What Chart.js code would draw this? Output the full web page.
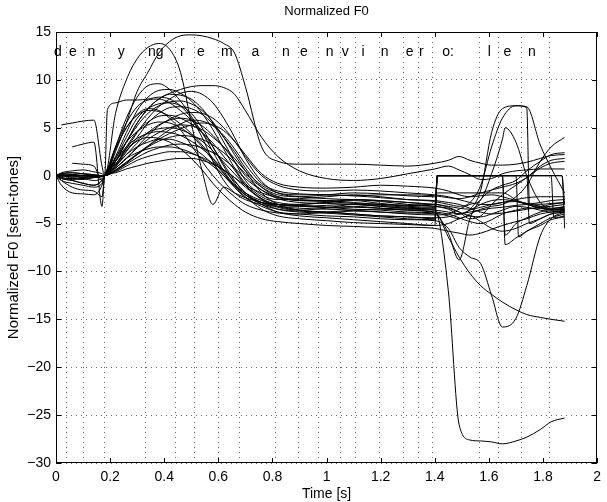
<!DOCTYPE html>
<html>
<head>
<meta charset="utf-8">
<script src="https://cdn.jsdelivr.net/npm/chart.js@4.4.0/dist/chart.umd.min.js"></script>
<style>
  html, body { margin: 0; padding: 0; background: #fff; }
  #wrap { width: 607px; height: 502px; }
</style>
</head>
<body>
<div id="wrap"><canvas id="f0" width="607" height="502"></canvas></div>
<script>
// time grid [s] shared by every contour (null = no sample there)
var T = [0, 0.02, 0.06, 0.10, 0.14, 0.17, 0.18, 0.19,
  0.22, 0.26, 0.30, 0.34, 0.38, 0.42, 0.46, 0.50, 0.54, 0.58, 0.62, 0.66,
  0.70, 0.76, 0.82, 0.90, 1.00, 1.10, 1.20, 1.30, 1.40,
  1.41, 1.45, 1.49, 1.53, 1.57, 1.61, 1.65, 1.66, 1.70, 1.71, 1.74, 1.75, 1.79, 1.83, 1.84, 1.87, 1.88];
var _ = null;

// normalized F0 contours [semi-tones]
var c01 = [0,0,0,0,0,0,0, _, 2.5,5.5,8.8,10.8,12.8,14.0,14.6,14.7,14.6,14.3,13.8,12.8, 9.3,3.0,1.5,1.2,1.2,1.2,1.1,1.0,1.3, _,1.6,2.0,1.6,1.3,1.1,1.1,_,1.2,_,1.4,_,1.8,2.1,_,_,2.2];
var c02 = [0,0,0.1,0.2,0.1,0,0, _, 1.5,3.5,5.5,7.0,8.0,8.6,9.0,9.3,9.4,9.4,9.2,8.5, 6.8,4.0,2.0,0.5,-0.3,-0.5,-0.3,0.2,0.7, _,1.0,0.6,0.1,-0.4,-0.3,0.2,_,0.5,_,0.6,_,0.7,0.7,_,_,0.7];
var c03 = [0,0,0,0,0,0,0, _, 6.5,10.0,12.2,13.4,13.8,13.2,10.8,5.5,0.5,-3.0,-1.2,-1.8, -2.3,-2.8,-3.0,-3.1,-3.3,-3.0,-3.2,-3.4,-3.5, 0,0,0,0,0,0,0,-6.2,-5.0,_,-4.4,_,-3.8,-3.5,_,_,-3.2];
var c04 = [0,0,0,0,0,0,0, 6.9, 7.6,7.9,7.9,8.0,8.2,8.0,7.3,6.0,4.0,1.5,-0.5,-1.8, -2.5,-3.0,-3.2,-3.0,-2.8,-2.6,-2.9,-3.1,-3.0, _,-3.3,-3.8,-4.5,-4.2,-3.0,-2.0,_,-1.0,_,-0.2,_,1.0,1.6,_,_,1.8];
var c05 = [0,-0.2,-0.4,-0.3,-0.2,-0.1,0, _, 3.0,6.0,8.2,9.4,9.6,9.0,7.8,6.2,4.5,2.5,0.5,-1.0, -2.0,-2.8,-3.2,-3.4,-3.5,-3.6,-3.8,-3.9,-4.0, _,-6.0,-8.8,-4.5,-2.5,-1.5,-1.0,_,-0.5,_,0.5,_,1.5,2.2,_,_,2.4];
var c06 = [0,0.2,0.3,0.2,0.1,0,0, _, 2.0,4.5,6.8,8.2,8.9,9.0,8.6,7.8,6.5,4.8,2.8,0.8, -0.8,-2.2,-2.8,-3.0,-2.8,-2.5,-2.7,-3.0,-3.2, _,-3.5,-4.0,-3.5,-1.5,4.5,7.0,_,7.3,_,7.1,-3.0,-3.3,-3.6,_,_,-3.5];
var c07 = [0,0,0,0,0,0,0, _, 1.5,3.5,5.5,7.0,8.0,8.5,8.4,8.0,7.0,5.5,3.5,1.5, -0.5,-2.0,-2.5,-2.4,-2.2,-2.0,-2.2,-2.5,-2.7, _,-3.0,-3.2,-2.8,-1.0,3.0,6.0,_,7.3,_,7.2,_,3.2,0.8,_,_,-1.8];
var c08 = [0,-0.3,-0.5,-0.8,-1.0,-0.5,0, _, 3.0,5.5,7.2,7.9,8.0,7.6,6.8,5.8,4.5,3.0,1.2,-0.5, -1.8,-2.8,-3.5,-3.8,-3.9,-3.7,-3.8,-4.0,-4.1, _,-4.0,-3.5,-3.0,-2.5,0.2,3.8,5.0,3.5,_,0.0,_,-2.8,-3.5,_,_,-3.6];
var c09 = [0,0,0,0,0,0,0, _, 1.8,4.0,6.0,7.0,7.5,7.6,7.3,6.5,5.0,3.0,1.0,-0.8, -2.0,-2.8,-3.0,-3.1,-3.3,-3.5,-3.6,-3.8,-3.9, _,-4.2,-4.5,-4.0,-3.5,-3.2,-3.0,_,-2.2,_,-1.0,_,1.5,3.0,_,_,4.0];
var c10 = [0,0.2,0.1,0,0,0,0, _, 1.0,2.5,4.0,5.5,6.5,7.1,7.2,7.0,6.4,5.4,4.0,2.5, 0.8,-1.2,-2.2,-2.6,-2.6,-2.5,-2.6,-2.8,-3.0, 0,0,0,0,0,0,0,-7.2,-6.5,_,-5.8,_,-5.0,-4.4,_,_,-4.0];
var c11 = [_,5.3,5.5,5.7,5.8,1.0,0, _, 2.8,5.0,6.3,6.8,6.7,6.2,5.4,4.4,3.2,1.8,0.3,-1.2, -2.3,-3.2,-3.8,-4.0,-4.2,-4.3,-4.5,-4.6,-4.7, _,-5.5,-7.5,-8.5,-9.2,-12.5,-15.8,_,-14.9,_,-11.5,_,-6.3,-4.5,_,_,-3.8];
var c12 = [_,_,3.0,3.3,3.5,-3.2,0, _, 1.2,3.0,4.6,5.6,6.2,6.3,6.0,5.4,4.5,3.4,2.0,0.6, -1.0,-2.5,-3.3,-3.6,-3.4,-3.2,-3.4,-3.6,-3.8, _,-6.4,-8.5,-10.2,-11.5,-12.4,-13.2,_,-14.0,_,-14.5,_,-14.8,-15.0,_,_,-15.2];
var c13 = [0,0,0,0,0,0,0, _, 1.0,2.2,3.4,4.5,5.3,5.8,6.0,5.8,5.2,4.2,3.0,1.5, 0.0,-1.5,-2.4,-2.8,-2.9,-3.0,-3.2,-3.4,-3.6, _,-12.0,-26.0,-27.6,-27.7,-27.8,-28.0,_,-27.7,_,-27.3,_,-26.5,-25.7,_,_,-25.3];
var c14 = [_,_,1.3,1.2,1.0,-0.5,0, _, 1.8,3.5,4.6,5.3,5.6,5.5,5.0,4.2,3.0,1.6,0.2,-1.0, -2.0,-3.0,-3.5,-3.7,-3.8,-4.0,-4.2,-4.3,-4.5, 0,0,0,0,0,0,0,_,0,_,0,_,0,0,-4.4,_,-4.2];
var c15 = [0,-1.0,-1.8,-1.9,-2.0,-1.0,0, _, 0.8,1.8,2.9,3.8,4.5,5.0,5.3,5.2,4.8,4.0,3.0,1.8, 0.5,-1.0,-1.8,-2.0,-2.0,-2.1,-2.3,-2.5,-2.6, _,-2.8,-3.0,-3.4,-3.8,-4.0,-3.9,_,-3.7,_,-3.5,_,-3.3,-3.2,_,_,-3.0];
var c16 = [0,-0.5,-1.2,-1.5,-1.6,-2.2,0, _, 1.2,2.6,3.7,4.5,4.9,5.0,4.8,4.3,3.6,2.6,1.4,0.2, -1.0,-2.4,-3.0,-3.2,-3.1,-3.0,-3.1,-3.3,-3.4, 0,0,0,0,0,0,0,_,0,_,0,_,0,0,_,0,-5.5];
var c17 = [0,0.1,-0.2,-0.3,-0.5,-0.3,0, _, 1.5,3.0,3.9,4.4,4.6,4.5,4.2,3.6,2.8,1.8,0.6,-0.6, -1.8,-3.0,-3.8,-4.2,-4.4,-4.6,-4.8,-5.0,-5.2, _,-5.0,-4.5,-4.2,-4.8,-5.5,-5.8,_,-5.5,_,-5.0,_,-4.5,-4.0,_,_,-3.8];
var c18 = [0,0,0,0,0,0,0, _, 0.6,1.4,2.2,3.0,3.6,4.0,4.2,4.1,3.8,3.2,2.4,1.4, 0.2,-1.2,-2.0,-2.2,-2.0,-1.8,-1.9,-2.1,-2.2, -1.8,-1.8,-1.8,-1.8,-1.8,-1.8,-1.8,_,-2.5,_,-3.0,_,-3.2,-3.0,_,_,-2.8];
var c19 = [0,-0.2,-0.3,-0.2,-0.1,0,0, _, 1.0,2.2,3.0,3.5,3.8,3.8,3.5,3.0,2.2,1.2,0.0,-1.2, -2.2,-3.5,-4.2,-4.5,-4.7,-4.9,-5.0,-5.1,-5.2, 0,0,0,0,0,0,0,_,0,_,0,-5.0,-4.5,-4.0,_,_,-3.8];
var c20 = [0,0,0,0,0,0,0, _, 0.5,1.2,1.9,2.5,2.9,3.2,3.3,3.2,2.9,2.4,1.7,0.8, -0.3,-1.5,-2.2,-2.5,-2.6,-2.8,-3.0,-3.1,-3.2, _,-3.4,-3.8,-4.2,-4.3,-4.0,-3.6,_,-3.2,_,-3.3,_,-3.6,-3.8,_,_,-3.7];
var c21 = [0,0.3,0.5,0.6,0.4,0.2,0, _, 0.8,1.8,2.4,2.8,3.0,3.0,2.8,2.4,1.8,1.0,0.0,-1.0, -1.8,-2.6,-3.0,-3.2,-3.3,-3.3,-3.4,-3.5,-3.6, _,-3.8,-4.0,-3.6,-3.0,-2.6,-2.5,_,-2.7,_,-3.0,_,-3.4,-3.6,_,_,-3.5];
var c22 = [0,0,-0.3,-0.4,-0.2,-0.1,0, _, 0.4,1.0,1.6,2.0,2.3,2.5,2.5,2.3,1.9,1.3,0.6,-0.2, -1.0,-1.8,-2.3,-2.6,-2.7,-2.9,-3.0,-3.2,-3.3, 0,0,0,0,0,0,0,_,0,_,0,_,0,0,_,0,-3.0];
var c23 = [0,-0.3,-0.5,-0.8,-1.0,-0.5,0, _, 0.3,0.7,1.0,1.3,1.5,1.7,1.8,1.8,1.6,1.2,0.6,-0.2, -1.2,-2.4,-3.2,-3.6,-3.8,-4.0,-4.2,-4.3,-4.4, _,-4.3,-4.0,-3.8,-3.6,-3.4,-3.3,_,-3.1,_,-3.0,_,-2.8,-2.6,_,_,-2.5];
var c24 = [0,0,0,0,0,0,0, _, 0.8,1.8,3.0,4.2,5.2,5.9,6.4,6.6,6.5,6.0,5.0,3.6, 2.0,0.0,-1.0,-1.5,-1.6,-1.5,-1.6,-1.8,-2.0, _,-2.2,-2.5,-2.8,-3.0,-3.0,-2.8,_,-2.5,_,-2.3,_,-2.2,-2.2,_,_,-2.2];
var c25 = [0,0.2,0.3,0.2,0,0,0, _, 0.6,1.4,2.3,3.1,3.8,4.4,4.9,5.3,5.5,5.3,4.7,3.6, 2.2,0.2,-0.8,-1.2,-1.3,-1.2,-1.0,-1.1,-1.3, _,-1.6,-2.0,-2.2,-2.1,-2.0,-2.2,_,-2.6,_,-2.9,_,-3.0,-2.9,_,_,-2.8];
var c26 = [0,0,0,0,0,0,0, _, 1.2,2.8,4.5,6.0,7.2,8.0,8.6,8.8,8.5,7.6,6.0,4.0, 1.8,-0.6,-1.8,-2.2,-2.4,-2.5,-2.6,-2.8,-3.0, _,-3.2,-3.4,-3.5,-3.3,-3.0,-2.8,_,-2.7,_,-2.9,_,-3.2,-3.4,_,_,-3.3];
var c27 = [0,-0.5,-0.8,-1.0,-1.2,-0.8,0, _, 1.5,3.5,5.2,6.5,7.3,7.7,7.8,7.5,6.8,5.6,4.0,2.2, 0.5,-1.8,-3.0,-3.6,-3.9,-4.1,-4.3,-4.5,-4.6, 0,0,0,0,0,0,0,_,0,-6.4,-5.8,_,-5.2,-4.6,_,_,-4.3];
var c28 = [0,0,0.1,0,0,0,0, _, 1.5,2.8,3.6,4.0,3.9,3.5,2.8,1.8,0.6,-0.8,-2.0,-3.0, -3.8,-4.5,-4.8,-5.0,-5.2,-5.3,-5.4,-5.4,-5.5, _,-5.8,-6.0,-6.2,-6.0,-5.6,-5.2,_,-4.8,_,-4.5,_,-4.0,-3.8,_,_,-3.6];
var c29 = [0,0.1,0,-0.2,-0.1,0,0, _, 2.8,5.0,6.4,7.0,6.8,6.0,4.8,3.2,1.5,0.0,-1.2,-2.2, -3.0,-3.6,-3.9,-4.0,-3.8,-3.6,-3.5,-3.6,-3.8, _,-4.0,-4.4,-4.8,-5.0,-4.6,-4.0,_,-3.6,_,-3.4,_,-3.4,-3.5,_,_,-3.4];
var c30 = [0,0,0,0,0,0,0, _, 0.5,1.3,2.2,3.1,4.0,4.8,5.4,5.8,5.7,5.2,4.2,2.8, 1.2,-0.8,-1.6,-1.9,-2.0,-2.1,-2.0,-2.0,-2.1, _,-2.3,-2.4,-2.2,-1.8,-1.5,-1.2,_,-0.8,_,-0.2,_,0.8,1.3,_,_,1.5];

var curves = [c01, c02, c03, c04, c05, c06, c07, c08, c09, c10, c11, c12, c13, c14, c15,
  c16, c17, c18, c19, c20, c21, c22, c23, c24, c25, c26, c27, c28, c29, c30];

// phoneme segmentation (dotted vertical lines) and labels
var bounds = [0.040, 0.102, 0.179, 0.332, 0.442, 0.511, 0.599, 0.679, 0.810, 0.898, 0.971,
  1.051, 1.106, 1.197, 1.285, 1.339, 1.391, 1.566, 1.635, 1.719, 1.825];
var phones = ['d', 'e', 'n', 'y', 'ng', 'r', 'e', 'm', 'a', 'n', 'e', 'n', 'v', 'i', 'n', 'e', 'r', 'o:', 'l', 'e', 'n'];
var phoneX = [0.007, 0.062, 0.131, 0.241, 0.369, 0.467, 0.536, 0.631, 0.737, 0.850, 0.916,
  1.011, 1.069, 1.135, 1.215, 1.307, 1.350, 1.449, 1.602, 1.668, 1.759];
var phoneY = 12.9;

var titleText = 'Normalized F0';
var xTitle = 'Time [s]';
var yTitle = 'Normalized F0 [semi-tones]';

var FONT = '"Liberation Sans", Arial, Helvetica, sans-serif';
Chart.defaults.font.family = FONT;
Chart.defaults.font.size = 14;
Chart.defaults.color = '#000';

// MATLAB-ish box: inward ticks, frame, titles, phoneme labels
var matlabFrame = {
  id: 'matlabFrame',
  beforeDatasetsDraw: function (chart) {
    var ctx = chart.ctx, x = chart.scales.x, y = chart.scales.y;
    ctx.save();
    ctx.font = '14px ' + FONT;
    ctx.fillStyle = '#000';
    ctx.textAlign = 'center';
    ctx.textBaseline = 'middle';
    phones.forEach(function (p, i) {
      ctx.fillText(p, x.getPixelForValue(phoneX[i]), y.getPixelForValue(phoneY));
    });
    ctx.restore();
  },
  afterDraw: function (chart) {
    var ctx = chart.ctx, a = chart.chartArea, x = chart.scales.x, y = chart.scales.y;
    ctx.save();
    ctx.strokeStyle = '#000';
    ctx.lineWidth = 1;
    ctx.strokeRect(Math.round(a.left) + 0.5, Math.round(a.top) + 0.5,
      Math.round(a.right - a.left) - 1, Math.round(a.bottom - a.top) - 1);
    ctx.beginPath();
    x.ticks.forEach(function (t) {
      var px = Math.round(x.getPixelForValue(t.value)) + 0.5;
      ctx.moveTo(px, a.bottom); ctx.lineTo(px, a.bottom - 5);
      ctx.moveTo(px, a.top); ctx.lineTo(px, a.top + 5);
    });
    y.ticks.forEach(function (t) {
      var py = Math.round(y.getPixelForValue(t.value)) + 0.5;
      ctx.moveTo(a.left, py); ctx.lineTo(a.left + 5, py);
      ctx.moveTo(a.right, py); ctx.lineTo(a.right - 5, py);
    });
    ctx.stroke();

    ctx.fillStyle = '#000';
    ctx.textAlign = 'center';
    ctx.textBaseline = 'middle';
    var cx = (a.left + a.right) / 2;
    ctx.font = '13px ' + FONT;
    ctx.fillText(titleText, cx, 11);
    ctx.font = '14px ' + FONT;
    ctx.fillText(xTitle, cx, 494);
    ctx.font = '15px ' + FONT;
    ctx.translate(14, (a.top + a.bottom) / 2);
    ctx.rotate(-Math.PI / 2);
    ctx.fillText(yTitle, 0, 0);
    ctx.restore();
  }
};

new Chart(document.getElementById('f0').getContext('2d'), {
  type: 'line',
  data: {
    datasets: curves.map(function (ys) {
      return {
        data: T.map(function (t, i) { return { x: t, y: ys[i] }; }),
        borderColor: '#000',
        borderWidth: 1,
        pointRadius: 0,
        fill: false,
        spanGaps: true,
        cubicInterpolationMode: 'monotone'
      };
    })
  },
  options: {
    responsive: false,
    animation: false,
    devicePixelRatio: 1,
    layout: { padding: { top: 32, right: 4, left: 0, bottom: 0 } },
    plugins: { legend: { display: false }, tooltip: { enabled: false }, title: { display: false } },
    scales: {
      x: {
        type: 'linear', min: 0, max: 2,
        ticks: {
          stepSize: 0.2, padding: 6, color: '#000',
          callback: function (v) { return String(Math.round(v * 10) / 10); }
        },
        grid: { display: false, drawTicks: false },
        border: { display: false },
        afterFit: function (s) { s.height = 39; }
      },
      xb: {
        type: 'linear', position: 'top', min: 0, max: 2,
        afterBuildTicks: function (s) { s.ticks = bounds.map(function (v) { return { value: v }; }); },
        ticks: { display: false },
        grid: { color: 'rgba(0,0,0,0.6)', lineWidth: 1, drawTicks: false },
        border: { display: false, dash: [1, 4] },
        afterFit: function (s) { s.height = 0; }
      },
      y: {
        type: 'linear', min: -30, max: 15,
        ticks: {
          stepSize: 5, padding: 5, color: '#000',
          callback: function (v) { return v < 0 ? '\u2212' + Math.abs(v) : String(v); }
        },
        grid: { color: 'rgba(0,0,0,0.6)', lineWidth: 1, drawTicks: false },
        border: { display: false, dash: [1, 4] },
        afterFit: function (s) { s.width = 56; }
      }
    }
  },
  plugins: [matlabFrame]
});
</script>
</body>
</html>
